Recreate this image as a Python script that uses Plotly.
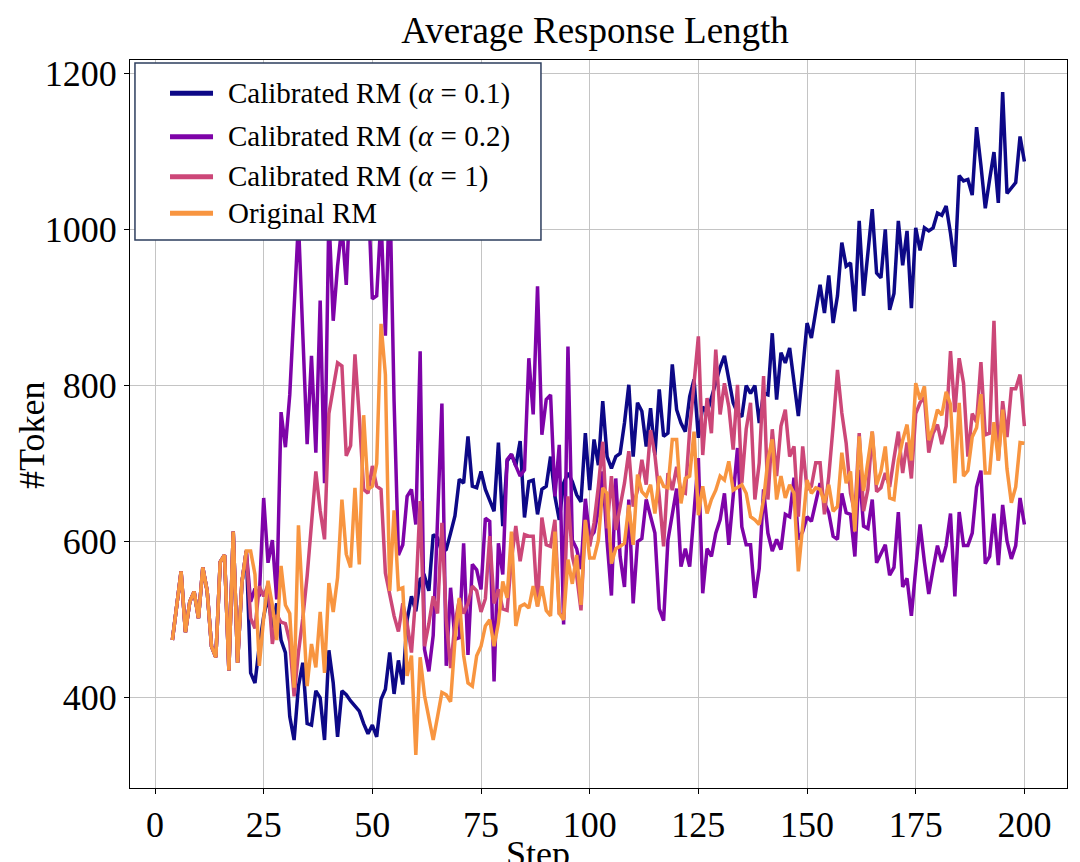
import plotly.graph_objects as go

# steps logged during RL training
steps = list(range(4, 201))

# average response length (#tokens) per step
calib_01 = [
    474, 519, 562, 484, 523, 536,
    502, 567, 537, 466, 452, 574, 583, 435, 613, 445,
    548, 588, 432, 419, 467, 504, 530, 489, 521, 474,
    458, 376, 346, 415, 445, 367, 365, 409, 400, 346,
    461, 419, 350, 409, 404, 396, 389, 383, 367, 354,
    365, 350, 398, 411, 458, 405, 448, 417, 500, 530,
    511, 552, 556, 537, 609, 605, 586, 590, 611, 633,
    680, 675, 735, 671, 669, 690, 667, 652, 639, 727,
    620, 703, 712, 697, 729, 631, 677, 679, 635, 667,
    671, 709, 658, 628, 675, 688, 677, 660, 651, 739,
    666, 731, 698, 780, 709, 694, 709, 713, 752, 801,
    709, 778, 767, 722, 771, 711, 795, 735, 739, 827,
    769, 752, 741, 786, 808, 733, 773, 765, 784, 803,
    823, 838, 808, 778, 765, 760, 800, 790, 800, 752,
    790, 788, 867, 782, 842, 829, 848, 808, 761, 820,
    880, 861, 897, 929, 893, 941, 880, 915, 983, 953,
    957, 895, 1011, 915, 970, 1026, 944, 938, 1000, 897,
    918, 1011, 954, 998, 899, 1002, 973, 1002, 998, 1002,
    1021, 1018, 1030, 995, 952, 1069, 1062, 1064, 1044, 1131,
    1082, 1027, 1064, 1099, 1034, 1176, 1046, 1053, 1060, 1119, 1087,
]

calib_02 = [
    474, 519, 562, 484, 523, 536,
    502, 567, 537, 466, 452, 574, 583, 435, 613, 445,
    548, 588, 523, 540, 530, 656, 573, 602, 526, 766,
    721, 788, 896, 1010, 866, 725, 838, 714, 909, 675,
    1020, 883, 953, 1005, 929, 1060, 1110, 1040, 1090, 1050,
    911, 915, 1015, 864, 1060, 780, 583, 596, 658, 667,
    622, 844, 462, 434, 480, 620, 777, 441, 541, 475,
    477, 598, 455, 571, 564, 539, 630, 626, 421, 598,
    558, 705, 712, 697, 684, 692, 835, 763, 927, 737,
    782, 788, 658, 724, 494, 850, 602, 591, 565, 655,
    605, 612, 640, 690, 600, 531, 681, 581, 542, 654,
    521, 600, 604, 654, 632, 611, 514, 499, 602, 636,
    668, 568, 591, 568, 645, 707, 534, 591, 581, 611,
    628, 662, 596, 654, 720, 619, 596, 596, 528, 566,
    667, 611, 588, 603, 590, 635, 632, 682, 603, 613,
    632, 626, 650, 675, 650, 637, 607, 603, 662, 637,
    635, 581, 692, 620, 617, 654, 573, 585, 596, 557,
    567, 638, 542, 553, 505, 565, 622, 574, 533, 565,
    595, 574, 595, 636, 530, 638, 595, 595, 611, 670,
    691, 572, 581, 636, 570, 647, 601, 578, 595, 656, 622,
]

calib_1 = [
    474, 519, 562, 484, 523, 536,
    502, 567, 537, 466, 452, 574, 583, 435, 613, 445,
    548, 588, 502, 489, 543, 530, 545, 469, 506, 497,
    495, 472, 402, 458, 502, 556, 623, 690, 640, 603,
    764, 795, 829, 825, 710, 723, 840, 760, 667, 662,
    697, 671, 667, 560, 530, 505, 485, 521, 495, 458,
    532, 652, 466, 495, 530, 508, 624, 500, 438, 495,
    526, 508, 521, 543, 537, 510, 527, 607, 521, 539,
    514, 512, 577, 620, 575, 609, 607, 607, 517, 631,
    596, 594, 628, 508, 505, 658, 581, 557, 512, 626,
    594, 624, 671, 728, 617, 684, 615, 647, 675, 716,
    645, 666, 705, 673, 743, 711, 658, 594, 688, 666,
    696, 664, 662, 743, 799, 863, 711, 784, 739, 846,
    763, 803, 773, 718, 801, 675, 744, 778, 654, 701,
    812, 654, 744, 684, 748, 769, 709, 722, 632, 722,
    667, 671, 701, 701, 635, 684, 748, 820, 765, 726,
    662, 636, 739, 639, 667, 741, 664, 669, 688, 670,
    707, 741, 688, 727, 681, 764, 778, 785, 714, 739,
    750, 725, 748, 844, 766, 835, 803, 709, 764, 753,
    830, 737, 739, 883, 704, 780, 734, 796, 796, 814, 748,
]

original = [
    474, 519, 562, 484, 523, 536,
    502, 567, 537, 466, 452, 574, 583, 435, 613, 445,
    548, 588, 588, 558, 441, 502, 550, 519, 474, 569,
    519, 508, 413, 621, 519, 415, 469, 439, 510, 432,
    547, 510, 554, 654, 584, 567, 669, 571, 762, 667,
    671, 700, 879, 814, 537, 640, 539, 541, 428, 454,
    327, 452, 403, 376, 346, 376, 407, 404, 395, 473,
    528, 454, 419, 415, 454, 466, 492, 500, 466, 496,
    549, 528, 613, 492, 517, 520, 515, 543, 517, 543,
    512, 505, 613, 508, 500, 577, 546, 583, 519, 628,
    579, 579, 602, 669, 662, 572, 591, 594, 598, 647,
    596, 686, 664, 658, 673, 636, 684, 671, 669, 731,
    731, 649, 681, 684, 741, 634, 671, 636, 654, 666,
    684, 679, 703, 666, 669, 673, 662, 632, 628, 622,
    654, 705, 731, 654, 684, 656, 673, 662, 562, 624,
    679, 662, 669, 667, 650, 673, 639, 645, 714, 675,
    690, 613, 735, 665, 705, 741, 673, 690, 722, 656,
    654, 704, 730, 750, 704, 803, 782, 799, 730, 746,
    769, 762, 792, 776, 675, 778, 684, 691, 734, 746,
    789, 688, 688, 753, 704, 769, 693, 650, 670, 727, 726,
]

names = [
    "Calibrated RM (<i>α</i> = 0.1)",
    "Calibrated RM (<i>α</i> = 0.2)",
    "Calibrated RM (<i>α</i> = 1)",
    "Original RM",
]
colors = ["#0d0887", "#7e03a8", "#cc4778", "#f89540"]  # plasma
series = [calib_01, calib_02, calib_1, original]

FONT = "Liberation Serif, Times New Roman, serif"

fig = go.Figure()
for name, ys, c in zip(names, series, colors):
    fig.add_trace(go.Scatter(x=steps, y=ys, mode="lines", name=name,
                             line=dict(color=c, width=3.5), showlegend=False))

axis_common = dict(
    showline=True, linecolor="black", linewidth=1.2, mirror=True,
    ticks="outside", ticklen=5, tickcolor="black",
    showgrid=True, gridcolor="#c4c4c4", gridwidth=1,
    zeroline=False, tickfont=dict(family=FONT, size=36, color="black"),
)

fig.update_xaxes(range=[-5.75, 209.8], tickvals=[0, 25, 50, 75, 100, 125, 150, 175, 200],
                 **axis_common)
fig.update_yaxes(range=[284.5, 1217], tickvals=[400, 600, 800, 1000, 1200],
                 **axis_common)

# page adds an 8px body margin, so the figure is a bit smaller than the window
fig.update_layout(
    width=1072, height=854,
    margin=dict(l=122, r=13, t=52, b=74),
    paper_bgcolor="white", plot_bgcolor="white",
    font=dict(family=FONT, color="black"),
    title=dict(text="Average Response Length", x=0.5476, xanchor="center",
               y=0.974, yanchor="middle", font=dict(family=FONT, size=37)),
    showlegend=False,
)

# hand-made legend box (matplotlib style)
fig.add_shape(type="rect", xref="paper", yref="paper",
              x0=0.0053, x1=0.4386, y0=0.7527, y1=0.9959,
              fillcolor="white", line=dict(color="#2d3e5e", width=1.5), layer="above")
legend_rows = [0.9543, 0.8946, 0.8397, 0.7894]
for name, c, ry in zip(names, colors, legend_rows):
    fig.add_shape(type="line", xref="paper", yref="paper",
                  x0=0.0427, x1=0.0886, y0=ry, y1=ry,
                  line=dict(color=c, width=5), layer="above")
    fig.add_annotation(text=name, xref="paper", yref="paper",
                       x=0.1024, y=ry, xanchor="left", yanchor="middle",
                       showarrow=False, font=dict(family=FONT, size=29))

fig.add_annotation(text="#Token", xref="paper", yref="paper",
                   x=-0.1046, y=0.485, xanchor="center", yanchor="middle",
                   textangle=-90, showarrow=False,
                   font=dict(family=FONT, size=36))
# x label sits partly below the bottom edge, as in the original figure
fig.add_annotation(text="Step", xref="paper", yref="paper",
                   x=0.4354, y=-0.061, xanchor="center", yanchor="top",
                   showarrow=False, font=dict(family=FONT, size=36))

fig.write_html("out.html")
